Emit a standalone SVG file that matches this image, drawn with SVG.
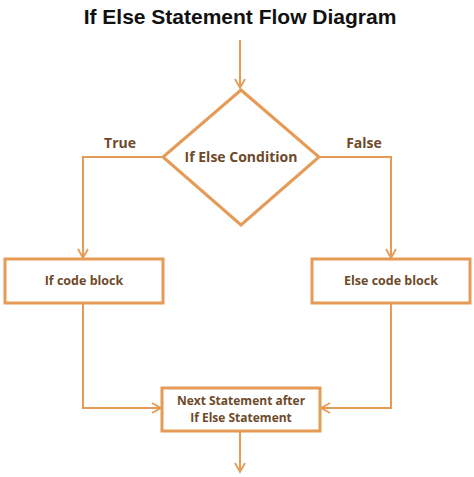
<svg xmlns="http://www.w3.org/2000/svg" width="474" height="477" viewBox="0 0 474 477">
<style>
.t{font-family:"Liberation Sans",Arial,sans-serif;font-weight:bold;font-size:21px;fill:#111;text-anchor:middle}
.l{font-family:"Open Sans","Liberation Sans",sans-serif;font-weight:bold;font-size:12.5px;fill:#6e4a2a;text-anchor:middle}
.lc{font-family:"Open Sans","Liberation Sans",sans-serif;font-weight:bold;font-size:14px;fill:#6e4a2a;text-anchor:middle}
.n{font-family:"Open Sans","Liberation Sans",sans-serif;font-weight:bold;font-size:12px;fill:#6e4a2a;text-anchor:middle}
.lb{font-family:"Open Sans","Liberation Sans",sans-serif;font-weight:bold;font-size:14px;fill:#6e4a2a;text-anchor:middle}
.shape{fill:#fff;stroke:#e59a55;stroke-width:3}
.c{fill:none;stroke:#e59a55;stroke-width:2}
</style>
<defs>
<marker id="a" markerWidth="12" markerHeight="12" refX="10" refY="6" orient="auto" markerUnits="userSpaceOnUse">
<path d="M1,1 L10,6 L1,11" fill="none" stroke="#e59a55" stroke-width="1.8"/>
</marker>
</defs>
<rect width="474" height="477" fill="#fff"/>
<text class="t" x="240" y="24">If Else Statement Flow Diagram</text>
<g id="connectors">
<line class="c" x1="240" y1="40" x2="240" y2="88" marker-end="url(#a)"/>
<polyline class="c" points="163,157 83,157 83,258" marker-end="url(#a)"/>
<polyline class="c" points="319,157 391,157 391,258" marker-end="url(#a)"/>
<polyline class="c" points="83,303 83,408 161,408" marker-end="url(#a)"/>
<polyline class="c" points="391,303 391,408 321,408" marker-end="url(#a)"/>
<line class="c" x1="240" y1="431" x2="240" y2="472" marker-end="url(#a)"/>
</g>
<text class="lb" x="120" y="148">True</text>
<text class="lb" x="364" y="148">False</text>
<g id="condition">
<polygon class="shape" points="241,90 319,157 241,225 163,157"/>
<text class="lc" x="241" y="162">If Else Condition</text>
</g>
<g id="ifblock">
<rect class="shape" x="5" y="259" width="158" height="44"/>
<text class="l" x="84" y="285">If code block</text>
</g>
<g id="elseblock">
<rect class="shape" x="312" y="259" width="158" height="44"/>
<text class="l" x="391" y="285">Else code block</text>
</g>
<g id="next">
<rect class="shape" x="162" y="388" width="158" height="43"/>
<text class="n" x="241" y="405">Next Statement after</text>
<text class="n" x="241" y="422">If Else Statement</text>
</g>
</svg>
